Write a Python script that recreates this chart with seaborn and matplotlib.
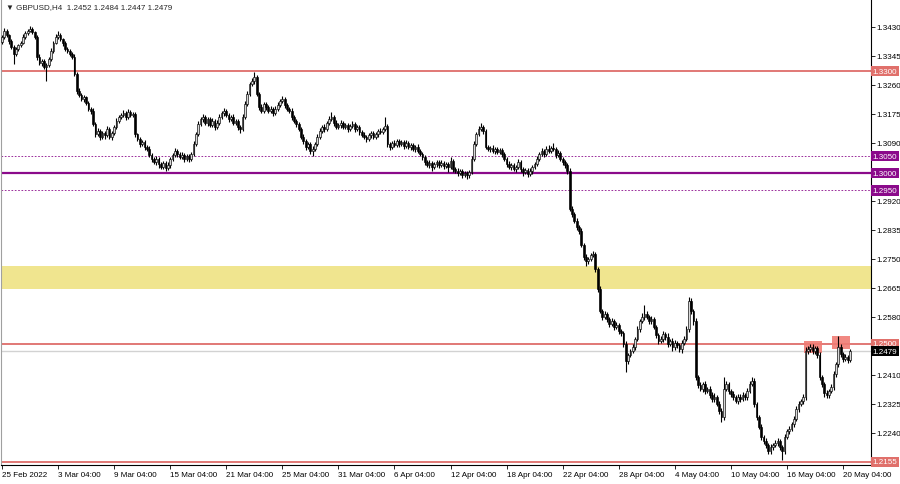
import numpy as np
import pandas as pd
import matplotlib
matplotlib.use("Agg")
import matplotlib.pyplot as plt
import matplotlib.transforms as mtransforms
from matplotlib.patches import Rectangle
import seaborn as sns

# GBPUSD H4, harga penutupan tiap bar, bar 0 = 25 Feb 04:00
close = [
    1.3400, 1.3417, 1.3405, 1.3388, 1.3370, 1.3350, 1.3364, 1.3376, 1.3382, 1.3400,
    1.3411, 1.3417, 1.3423, 1.3414, 1.3400, 1.3341, 1.3323, 1.3329, 1.3312, 1.3318,
    1.3335, 1.3359, 1.3382, 1.3400, 1.3405, 1.3394, 1.3382, 1.3364, 1.3359, 1.3350,
    1.3341, 1.3291, 1.3241, 1.3230, 1.3218, 1.3224, 1.3206, 1.3189, 1.3183, 1.3145,
    1.3115, 1.3124, 1.3107, 1.3118, 1.3112, 1.3130, 1.3107, 1.3118, 1.3136, 1.3153,
    1.3165, 1.3171, 1.3177, 1.3165, 1.3180, 1.3171, 1.3174, 1.3115, 1.3101, 1.3086,
    1.3092, 1.3077, 1.3071, 1.3054, 1.3042, 1.3033, 1.3042, 1.3027, 1.3019, 1.3030,
    1.3016, 1.3024, 1.3042, 1.3054, 1.3066, 1.3057, 1.3048, 1.3054, 1.3042, 1.3051,
    1.3042, 1.3057, 1.3086, 1.3115, 1.3145, 1.3159, 1.3165, 1.3148, 1.3159, 1.3142,
    1.3153, 1.3136, 1.3148, 1.3165, 1.3177, 1.3183, 1.3171, 1.3159, 1.3165, 1.3148,
    1.3153, 1.3136, 1.3130, 1.3165, 1.3203, 1.3233, 1.3262, 1.3271, 1.3282, 1.3233,
    1.3195, 1.3183, 1.3203, 1.3195, 1.3183, 1.3189, 1.3177, 1.3189, 1.3200, 1.3212,
    1.3218, 1.3200, 1.3189, 1.3183, 1.3165, 1.3153, 1.3145, 1.3130, 1.3107, 1.3095,
    1.3077, 1.3086, 1.3066, 1.3071, 1.3086, 1.3107, 1.3124, 1.3136, 1.3130, 1.3148,
    1.3159, 1.3165, 1.3148, 1.3136, 1.3142, 1.3148, 1.3136, 1.3142, 1.3130, 1.3139,
    1.3145, 1.3130, 1.3136, 1.3121, 1.3112, 1.3107, 1.3101, 1.3112, 1.3118, 1.3107,
    1.3115, 1.3124, 1.3121, 1.3130, 1.3139, 1.3086, 1.3077, 1.3089, 1.3083, 1.3095,
    1.3086, 1.3092, 1.3080, 1.3089, 1.3077, 1.3083, 1.3071, 1.3077, 1.3066, 1.3057,
    1.3048, 1.3033, 1.3024, 1.3030, 1.3019, 1.3027, 1.3033, 1.3024, 1.3030, 1.3022,
    1.3027, 1.3019, 1.3036, 1.3013, 1.3007, 1.3001, 1.3007, 1.2995, 1.3001, 1.2995,
    1.3004, 1.3042, 1.3086, 1.3115, 1.3130, 1.3136, 1.3124, 1.3077, 1.3071, 1.3074,
    1.3066, 1.3071, 1.3063, 1.3068, 1.3057, 1.3042, 1.3027, 1.3019, 1.3024, 1.3013,
    1.3019, 1.3033, 1.3013, 1.3004, 1.3010, 1.2998, 1.3007, 1.3019, 1.3027, 1.3042,
    1.3057, 1.3066, 1.3057, 1.3071, 1.3066, 1.3074, 1.3071, 1.3054, 1.3060, 1.3042,
    1.3033, 1.3024, 1.3007, 1.2896, 1.2881, 1.2861, 1.2843, 1.2831, 1.2790, 1.2755,
    1.2743, 1.2749, 1.2761, 1.2764, 1.2720, 1.2661, 1.2597, 1.2579, 1.2588, 1.2573,
    1.2559, 1.2567, 1.2550, 1.2556, 1.2538, 1.2532, 1.2500, 1.2450, 1.2468, 1.2480,
    1.2491, 1.2515, 1.2544, 1.2567, 1.2579, 1.2588, 1.2579, 1.2567, 1.2573, 1.2550,
    1.2527, 1.2509, 1.2515, 1.2529, 1.2521, 1.2500, 1.2509, 1.2491, 1.2503, 1.2497,
    1.2485, 1.2503, 1.2515, 1.2544, 1.2626, 1.2597, 1.2567, 1.2403, 1.2380, 1.2368,
    1.2383, 1.2362, 1.2368, 1.2351, 1.2339, 1.2345, 1.2324, 1.2304, 1.2286, 1.2368,
    1.2383, 1.2362, 1.2353, 1.2345, 1.2333, 1.2345, 1.2339, 1.2351, 1.2345, 1.2362,
    1.2383, 1.2391, 1.2324, 1.2286, 1.2257, 1.2228, 1.2216, 1.2204, 1.2187, 1.2198,
    1.2204, 1.2210, 1.2216, 1.2198, 1.2187, 1.2228, 1.2245, 1.2251, 1.2266, 1.2280,
    1.2310, 1.2324, 1.2333, 1.2345, 1.2480, 1.2485, 1.2491, 1.2480, 1.2488, 1.2468,
    1.2403, 1.2383, 1.2356, 1.2351, 1.2362, 1.2374, 1.2412, 1.2441, 1.2491, 1.2471,
    1.2456, 1.2462, 1.2452, 1.2479,
]
open_first = 1.3385

# panjang sumbu atas / bawah (dalam pips)
wick_up = [
    6, 8, 5, 4, 6, 5, 7, 4, 6, 8,
    5, 7, 9, 6, 4, 5, 8, 6, 7, 5,
    6, 8, 5, 7, 12, 6, 4, 5, 7, 6,
    5, 8, 6, 9, 5, 7, 4, 6, 5, 8,
    6, 9, 5, 7, 6, 8, 5, 6, 7, 9,
    6, 5, 8, 6, 9, 5, 7, 6, 4, 5,
    7, 5, 6, 8, 5, 6, 9, 5, 6, 7,
    5, 8, 6, 7, 9, 5, 6, 8, 5, 7,
    6, 5, 8, 7, 9, 6, 8, 5, 7, 6,
    8, 5, 7, 9, 6, 10, 5, 7, 6, 8,
    5, 7, 6, 8, 9, 7, 6, 8, 15, 6,
    5, 8, 6, 7, 5, 9, 6, 7, 8, 6,
    9, 5, 7, 6, 8, 5, 7, 6, 5, 8,
    6, 7, 5, 8, 6, 7, 9, 5, 8, 6,
    8, 15, 6, 7, 5, 8, 6, 7, 5, 6,
    8, 6, 7, 5, 6, 8, 5, 7, 6, 5,
    7, 6, 8, 5, 26, 7, 6, 5, 8, 6,
    5, 7, 6, 8, 5, 6, 7, 5, 8, 6,
    7, 5, 6, 8, 5, 7, 6, 5, 8, 6,
    5, 7, 12, 6, 5, 8, 6, 7, 5, 6,
    6, 8, 9, 7, 8, 12, 6, 5, 7, 6,
    8, 5, 7, 6, 5, 7, 6, 8, 5, 7,
    6, 9, 5, 7, 6, 5, 8, 6, 7, 8,
    6, 9, 5, 8, 11, 7, 15, 6, 8, 5,
    7, 5, 6, 10, 8, 6, 7, 5, 9, 6,
    8, 7, 6, 9, 5, 6, 8, 7, 9, 6,
    7, 8, 6, 9, 5, 7, 6, 8, 7, 6,
    8, 6, 9, 7, 12, 26, 8, 6, 9, 5,
    7, 6, 9, 8, 6, 10, 7, 8, 9, 6,
    7, 8, 9, 10, 12, 9, 7, 8, 6, 9,
    7, 8, 6, 9, 7, 10, 6, 8, 7, 35,
    8, 6, 7, 9, 6, 8, 7, 9, 6, 8,
    9, 12, 8, 6, 7, 9, 6, 8, 7, 9,
    6, 8, 9, 7, 6, 8, 7, 9, 6, 8,
    7, 9, 6, 8, 12, 9, 8, 10, 7, 6,
    8, 7, 6, 9, 7, 8, 9, 6, 33, 8,
    7, 9, 6, 5,
]
wick_dn = [
    5, 7, 6, 8, 5, 29, 6, 5, 7, 4,
    6, 5, 4, 7, 6, 8, 5, 7, 6, 41,
    5, 6, 7, 4, 6, 5, 8, 6, 5, 7,
    6, 5, 8, 7, 6, 9, 5, 7, 8, 6,
    9, 6, 8, 5, 10, 6, 7, 8, 5, 6,
    5, 7, 6, 8, 5, 6, 7, 9, 6, 8,
    6, 8, 5, 7, 9, 6, 8, 10, 7, 6,
    9, 6, 7, 5, 6, 8, 7, 5, 9, 6,
    8, 6, 5, 7, 6, 5, 8, 6, 9, 7,
    6, 8, 5, 7, 6, 8, 7, 9, 6, 5,
    7, 9, 12, 6, 5, 7, 6, 5, 8, 7,
    9, 6, 7, 8, 6, 5, 9, 6, 7, 5,
    6, 8, 7, 5, 9, 6, 8, 7, 6, 9,
    8, 7, 9, 15, 6, 5, 7, 6, 8, 5,
    6, 5, 8, 7, 6, 9, 5, 7, 8, 6,
    7, 9, 6, 8, 5, 7, 9, 6, 8, 7,
    6, 8, 5, 7, 6, 9, 8, 6, 7, 5,
    8, 6, 9, 5, 7, 8, 6, 9, 7, 6,
    8, 7, 6, 9, 12, 6, 8, 7, 5, 9,
    7, 14, 6, 8, 7, 9, 6, 8, 7, 11,
    8, 6, 5, 7, 6, 5, 8, 7, 6, 9,
    6, 8, 7, 5, 9, 6, 8, 7, 10, 6,
    8, 7, 9, 12, 6, 10, 7, 8, 6, 5,
    7, 6, 8, 5, 7, 6, 5, 8, 7, 6,
    8, 7, 9, 6, 8, 7, 9, 8, 7, 9,
    14, 8, 7, 6, 9, 8, 7, 10, 6, 8,
    9, 7, 8, 6, 9, 8, 10, 32, 8, 7,
    6, 8, 7, 9, 6, 8, 7, 9, 8, 6,
    9, 8, 7, 10, 8, 9, 7, 12, 8, 9,
    8, 10, 7, 6, 8, 9, 10, 8, 9, 7,
    8, 9, 7, 10, 8, 9, 7, 8, 14, 9,
    7, 9, 8, 10, 7, 9, 8, 7, 9, 8,
    7, 6, 9, 8, 7, 9, 8, 10, 9, 8,
    9, 7, 8, 10, 27, 8, 7, 9, 6, 8,
    7, 8, 6, 9, 8, 9, 7, 9, 8, 10,
    8, 9, 10, 8, 9, 7, 8, 9, 7, 10,
    8, 7, 9, 5,
]

x_tick_bars = [0, 24, 48, 72, 96, 120, 144, 168, 192, 216, 240, 264, 288, 312, 336, 360]
x_tick_labels = ["25 Feb 2022", "3 Mar 04:00", "9 Mar 04:00", "15 Mar 04:00", "21 Mar 04:00",
                 "25 Mar 04:00", "31 Mar 04:00", "6 Apr 04:00", "12 Apr 04:00", "18 Apr 04:00",
                 "22 Apr 04:00", "28 Apr 04:00", "4 May 04:00", "10 May 04:00", "16 May 04:00",
                 "20 May 04:00"]
y_ticks = [1.3430, 1.3345, 1.3260, 1.3175, 1.3090, 1.2920, 1.2835,
           1.2750, 1.2665, 1.2580, 1.2410, 1.2325, 1.2240]

# level horizontal
red_levels = [1.3300, 1.2500, 1.2155]
purple_dotted = [1.3050, 1.2950]
purple_main = 1.3000
zone_low, zone_high = 1.2661, 1.2730
bid_price = 1.2479
# kotak merah: (bar awal, bar akhir, harga bawah, harga atas)
box_bars = [(343.5, 351.0), (355.5, 363.0)]
box_prices = [(1.2474, 1.2510), (1.2484, 1.2522)]

title_text = "\u25bc GBPUSD,H4  1.2452 1.2484 1.2447 1.2479"

sns.set_theme(style="white")
plt.rcParams["font.family"] = ["Liberation Sans", "DejaVu Sans"]

df = pd.DataFrame({"close": close})
df["bar"] = np.arange(len(df))
df["open"] = [open_first] + close[:-1]
df["high"] = df[["open", "close"]].max(axis=1) + np.array(wick_up) / 10000
df["low"] = df[["open", "close"]].min(axis=1) - np.array(wick_dn) / 10000
df["bull"] = df["close"] >= df["open"]

fig = plt.figure(figsize=(9, 4.85), dpi=100)
ax = fig.add_axes([1 / 900, 19 / 485, 870 / 900, 466 / 485])

# zona kuning
ax.axhspan(zone_low, zone_high, color="#F0E58F", zorder=0, lw=0)

# garis level
for lv in red_levels:
    ax.axhline(lv, color="#D9534F", lw=1.1, zorder=1)
for lv in purple_dotted:
    ax.axhline(lv, color="#8B0A8B", lw=0.6, ls=(0, (2, 2)), zorder=1)
ax.axhline(purple_main, color="#8B0A8B", lw=1.6, zorder=1)
ax.axhline(bid_price, color="#D2D2D2", lw=1.0, zorder=1)

# kotak merah transparan
for (b0, b1), (p0, p1) in zip(box_bars, box_prices):
    ax.add_patch(Rectangle((b0, p0), b1 - b0, p1 - p0, fc="#F07C74", ec="none", alpha=0.9, zorder=2))

# candlestick: sumbu lalu badan
ax.vlines(df["bar"], df["low"], df["high"], color="black", lw=0.8, zorder=3)
body = (df["close"] - df["open"]).abs().clip(lower=0.00008)
ax.bar(df["bar"], body, bottom=df[["open", "close"]].min(axis=1), width=0.75,
       color=np.where(df["bull"], "#D8D8D8", "black"), edgecolor="black", lw=0.45, zorder=4)

ax.set_xlim(-0.43, 372.0)
ax.set_ylim(1.21454, 1.35110)

ax.yaxis.tick_right()
ax.set_yticks(y_ticks)
ax.set_yticklabels([f"{v:.4f}" for v in y_ticks])
ax.set_xticks(x_tick_bars)
ax.set_xticklabels(x_tick_labels, ha="left")
ax.tick_params(axis="y", right=True, length=3, width=0.6, pad=1.2, labelsize=5.8, colors="black")
ax.tick_params(axis="x", bottom=True, length=3, width=0.6, pad=1.5, labelsize=5.8, colors="black")

ax.spines["top"].set_visible(False)
ax.spines["left"].set_color("#A0A0A0")
ax.spines["right"].set_color("black")
ax.spines["bottom"].set_color("black")
for side in ["left", "right", "bottom"]:
    ax.spines[side].set_linewidth(0.8)

# label harga di sumbu kanan
trans = mtransforms.blended_transform_factory(ax.transAxes, ax.transData)
label_levels = [(lv, "#E0706B") for lv in red_levels]
label_levels += [(lv, "#8B0A8B") for lv in purple_dotted + [purple_main]]
label_levels += [(bid_price, "black")]
for lv, col in label_levels:
    ax.text(1.002, lv, f"{lv:.4f}", transform=trans, ha="left", va="center", color="white",
            fontsize=5.8, clip_on=False, zorder=10,
            bbox=dict(boxstyle="square,pad=0.2", fc=col, ec="none"))

fig.text(6 / 900, 1 - 8 / 485, title_text, fontsize=5.8, va="center", ha="left")

fig.savefig("out.png", dpi=100, facecolor="white")
